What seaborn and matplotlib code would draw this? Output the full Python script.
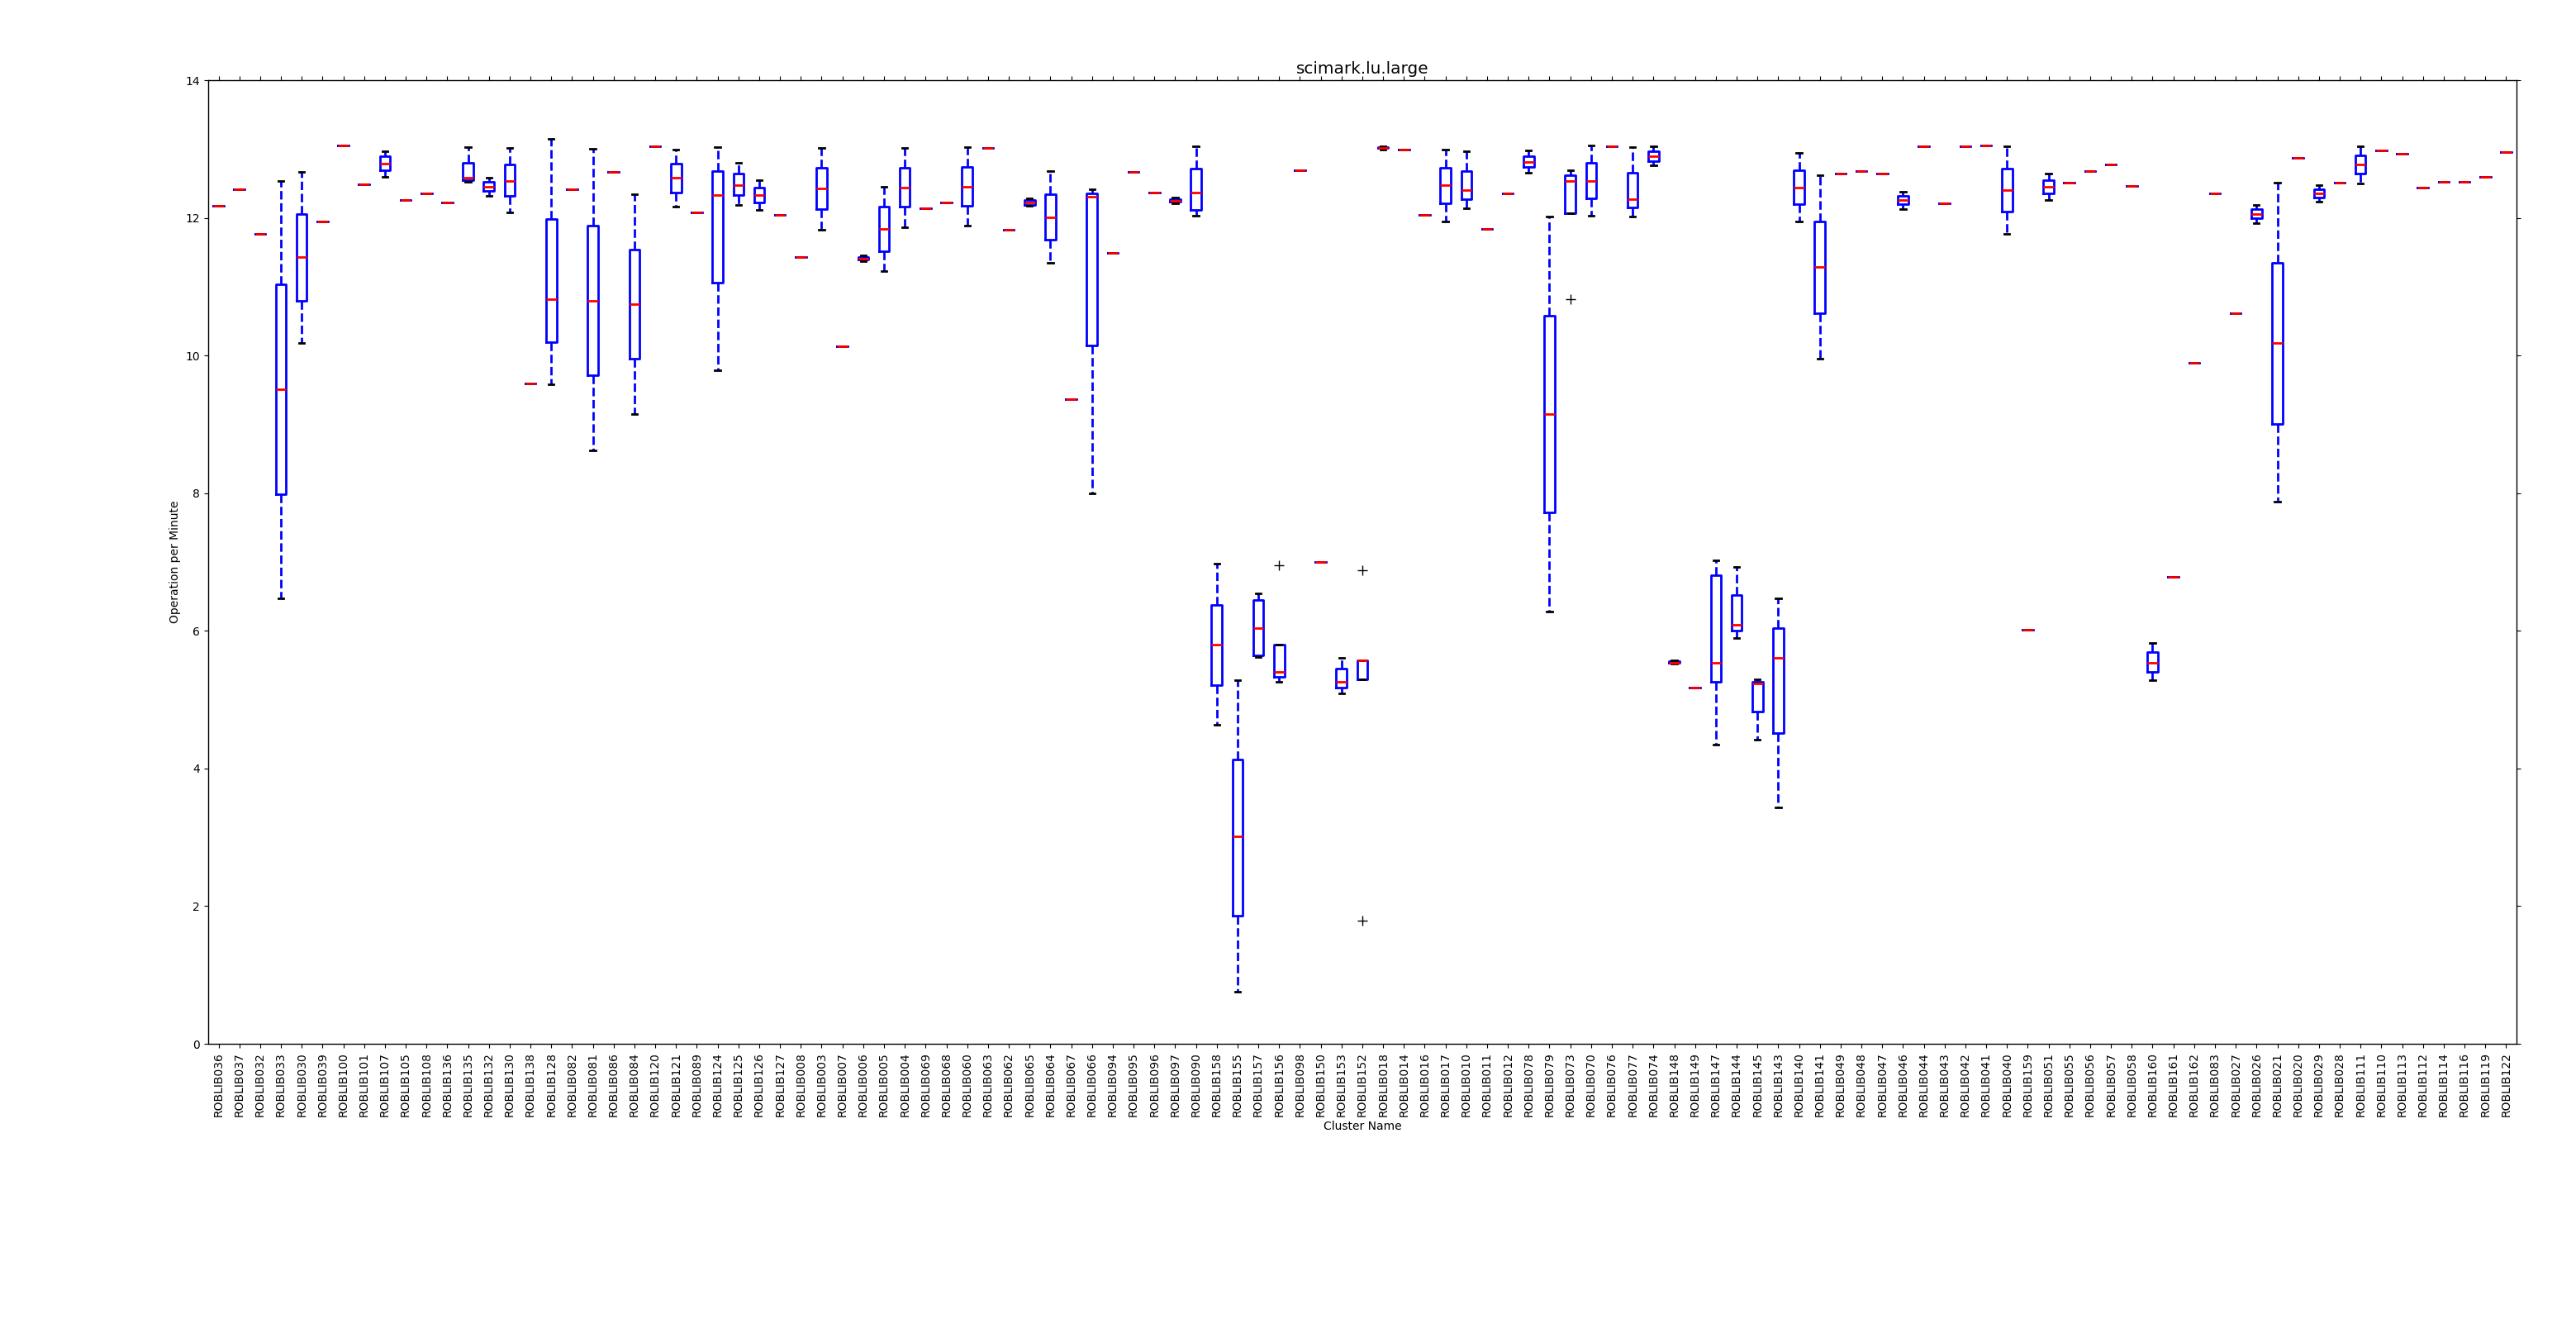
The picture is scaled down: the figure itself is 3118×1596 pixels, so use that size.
import matplotlib
matplotlib.use("Agg")
import matplotlib.pyplot as plt
import seaborn as sns
import pandas as pd

# Cluster names in plotting order
CLUSTERS = [
    "ROBLIB036", "ROBLIB037", "ROBLIB032", "ROBLIB033", "ROBLIB030", "ROBLIB039",
    "ROBLIB100", "ROBLIB101", "ROBLIB107", "ROBLIB105", "ROBLIB108", "ROBLIB136",
    "ROBLIB135", "ROBLIB132", "ROBLIB130", "ROBLIB138", "ROBLIB128", "ROBLIB082",
    "ROBLIB081", "ROBLIB086", "ROBLIB084", "ROBLIB120", "ROBLIB121", "ROBLIB089",
    "ROBLIB124", "ROBLIB125", "ROBLIB126", "ROBLIB127", "ROBLIB008", "ROBLIB003",
    "ROBLIB007", "ROBLIB006", "ROBLIB005", "ROBLIB004", "ROBLIB069", "ROBLIB068",
    "ROBLIB060", "ROBLIB063", "ROBLIB062", "ROBLIB065", "ROBLIB064", "ROBLIB067",
    "ROBLIB066", "ROBLIB094", "ROBLIB095", "ROBLIB096", "ROBLIB097", "ROBLIB090",
    "ROBLIB158", "ROBLIB155", "ROBLIB157", "ROBLIB156", "ROBLIB098", "ROBLIB150",
    "ROBLIB153", "ROBLIB152", "ROBLIB018", "ROBLIB014", "ROBLIB016", "ROBLIB017",
    "ROBLIB010", "ROBLIB011", "ROBLIB012", "ROBLIB078", "ROBLIB079", "ROBLIB073",
    "ROBLIB070", "ROBLIB076", "ROBLIB077", "ROBLIB074", "ROBLIB148", "ROBLIB149",
    "ROBLIB147", "ROBLIB144", "ROBLIB145", "ROBLIB143", "ROBLIB140", "ROBLIB141",
    "ROBLIB049", "ROBLIB048", "ROBLIB047", "ROBLIB046", "ROBLIB044", "ROBLIB043",
    "ROBLIB042", "ROBLIB041", "ROBLIB040", "ROBLIB159", "ROBLIB051", "ROBLIB055",
    "ROBLIB056", "ROBLIB057", "ROBLIB058", "ROBLIB160", "ROBLIB161", "ROBLIB162",
    "ROBLIB083", "ROBLIB027", "ROBLIB026", "ROBLIB021", "ROBLIB020", "ROBLIB029",
    "ROBLIB028", "ROBLIB111", "ROBLIB110", "ROBLIB113", "ROBLIB112", "ROBLIB114",
    "ROBLIB116", "ROBLIB119", "ROBLIB122",
]

# Five-number summaries (whisker low, Q1, median, Q3, whisker high)
WHISK_LO = [
    12.18, 12.42, 11.77, 6.47, 10.18, 11.95, 13.05, 12.49, 12.59, 12.26, 12.36, 12.22,
    12.52, 12.32, 12.08, 9.60, 9.58, 12.42, 8.62, 12.67, 9.15, 13.04, 12.16, 12.08,
    9.79, 12.19, 12.11, 12.04, 11.43, 11.83, 10.13, 11.37, 11.23, 11.86, 12.14, 12.22,
    11.89, 13.02, 11.83, 12.17, 11.35, 9.36, 8.00, 11.49, 12.67, 12.37, 12.21, 12.03,
    4.63, 0.76, 5.62, 5.26, 12.69, 7.00, 5.09, 5.30, 12.99, 12.99, 12.04, 11.95,
    12.14, 11.84, 12.35, 12.66, 6.28, 12.07, 12.03, 13.04, 12.02, 12.76, 5.52, 5.18,
    4.35, 5.90, 4.42, 3.44, 11.95, 9.96, 12.64, 12.68, 12.64, 12.13, 13.04, 12.21,
    13.04, 13.05, 11.77, 6.02, 12.26, 12.51, 12.68, 12.78, 12.46, 5.28, 6.78, 9.89,
    12.35, 10.61, 11.92, 7.88, 12.87, 12.24, 12.51, 12.50, 12.98, 12.93, 12.44, 12.52,
    12.52, 12.60, 12.95,
]
Q1 = [
    12.18, 12.42, 11.77, 7.98, 10.80, 11.95, 13.05, 12.49, 12.69, 12.26, 12.36, 12.22,
    12.55, 12.39, 12.32, 9.60, 10.20, 12.42, 9.72, 12.67, 9.96, 13.04, 12.37, 12.08,
    11.06, 12.33, 12.22, 12.04, 11.43, 12.13, 10.13, 11.39, 11.52, 12.16, 12.14, 12.22,
    12.17, 13.02, 11.83, 12.19, 11.68, 9.36, 10.15, 11.49, 12.67, 12.37, 12.23, 12.11,
    5.21, 1.86, 5.64, 5.33, 12.69, 7.00, 5.18, 5.30, 13.01, 12.99, 12.04, 12.21,
    12.27, 11.84, 12.35, 12.74, 7.72, 12.07, 12.28, 13.04, 12.15, 12.82, 5.53, 5.18,
    5.26, 6.00, 4.83, 4.52, 12.20, 10.61, 12.64, 12.68, 12.64, 12.20, 13.04, 12.21,
    13.04, 13.05, 12.09, 6.02, 12.35, 12.51, 12.68, 12.78, 12.46, 5.40, 6.78, 9.89,
    12.35, 10.61, 11.99, 9.01, 12.87, 12.30, 12.51, 12.64, 12.98, 12.93, 12.44, 12.52,
    12.52, 12.60, 12.95,
]
MEDIAN = [
    12.18, 12.42, 11.77, 9.51, 11.43, 11.95, 13.05, 12.49, 12.79, 12.26, 12.36, 12.22,
    12.58, 12.45, 12.54, 9.60, 10.82, 12.42, 10.80, 12.67, 10.75, 13.04, 12.58, 12.08,
    12.33, 12.48, 12.33, 12.04, 11.43, 12.43, 10.13, 11.41, 11.84, 12.44, 12.14, 12.22,
    12.45, 13.02, 11.83, 12.22, 12.01, 9.36, 12.31, 11.49, 12.67, 12.37, 12.25, 12.37,
    5.80, 3.01, 6.04, 5.40, 12.69, 7.00, 5.26, 5.57, 13.02, 12.99, 12.04, 12.48,
    12.40, 11.84, 12.35, 12.81, 9.15, 12.54, 12.54, 13.04, 12.27, 12.90, 5.54, 5.18,
    5.54, 6.09, 5.23, 5.61, 12.44, 11.29, 12.64, 12.68, 12.64, 12.26, 13.04, 12.21,
    13.04, 13.05, 12.40, 6.02, 12.45, 12.51, 12.68, 12.78, 12.46, 5.54, 6.78, 9.89,
    12.35, 10.61, 12.06, 10.18, 12.87, 12.35, 12.51, 12.78, 12.98, 12.93, 12.44, 12.52,
    12.52, 12.60, 12.95,
]
Q3 = [
    12.18, 12.42, 11.77, 11.03, 12.05, 11.95, 13.05, 12.49, 12.89, 12.26, 12.36, 12.22,
    12.80, 12.52, 12.78, 9.60, 11.98, 12.42, 11.89, 12.67, 11.54, 13.04, 12.79, 12.08,
    12.68, 12.64, 12.44, 12.04, 11.43, 12.73, 10.13, 11.43, 12.16, 12.73, 12.14, 12.22,
    12.74, 13.02, 11.83, 12.26, 12.34, 9.36, 12.35, 11.49, 12.67, 12.37, 12.27, 12.71,
    6.38, 4.13, 6.45, 5.80, 12.69, 7.00, 5.45, 5.57, 13.03, 12.99, 12.04, 12.73,
    12.68, 11.84, 12.35, 12.90, 10.58, 12.62, 12.80, 13.04, 12.66, 12.97, 5.56, 5.18,
    6.81, 6.52, 5.26, 6.04, 12.69, 11.95, 12.64, 12.68, 12.64, 12.32, 13.04, 12.21,
    13.04, 13.05, 12.72, 6.02, 12.55, 12.51, 12.68, 12.78, 12.46, 5.69, 6.78, 9.89,
    12.35, 10.61, 12.13, 11.35, 12.87, 12.42, 12.51, 12.91, 12.98, 12.93, 12.44, 12.52,
    12.52, 12.60, 12.95,
]
WHISK_HI = [
    12.18, 12.42, 11.77, 12.54, 12.67, 11.95, 13.05, 12.49, 12.97, 12.26, 12.36, 12.22,
    13.03, 12.58, 13.01, 9.60, 13.15, 12.42, 13.00, 12.67, 12.34, 13.04, 12.99, 12.08,
    13.03, 12.80, 12.55, 12.04, 11.43, 13.02, 10.13, 11.45, 12.45, 13.02, 12.14, 12.22,
    13.03, 13.02, 11.83, 12.28, 12.68, 9.36, 12.42, 11.49, 12.67, 12.37, 12.29, 13.04,
    6.98, 5.28, 6.55, 5.80, 12.69, 7.00, 5.61, 5.57, 13.04, 12.99, 12.04, 12.99,
    12.97, 11.84, 12.35, 12.98, 12.02, 12.69, 13.05, 13.04, 13.03, 13.04, 5.57, 5.18,
    7.02, 6.93, 5.30, 6.47, 12.94, 12.62, 12.64, 12.68, 12.64, 12.38, 13.04, 12.21,
    13.04, 13.05, 13.04, 6.02, 12.64, 12.51, 12.68, 12.78, 12.46, 5.83, 6.78, 9.89,
    12.35, 10.61, 12.19, 12.51, 12.87, 12.48, 12.51, 13.04, 12.98, 12.93, 12.44, 12.52,
    12.52, 12.60, 12.95,
]
# Outliers drawn as '+'
FLIERS = {
    "ROBLIB156": [6.95],
    "ROBLIB152": [6.88, 1.79],
    "ROBLIB073": [10.82],
}


def build_samples():
    """Expand the summaries into samples whose box statistics match them."""
    rows = []
    for i, name in enumerate(CLUSTERS):
        vals = ([WHISK_LO[i]] + [Q1[i]] * 20 + [MEDIAN[i]] * 5 +
                [Q3[i]] * 20 + [WHISK_HI[i]] + FLIERS.get(name, []))
        rows.extend({"Cluster Name": name, "Operation per Minute": v} for v in vals)
    return pd.DataFrame(rows)


def main():
    df = build_samples()

    fig = plt.figure(figsize=(31.18, 15.96), dpi=100)
    ax = fig.add_axes([0.0808, 0.2086, 0.8961, 0.7306])

    sns.boxplot(
        data=df, x="Cluster Name", y="Operation per Minute", order=CLUSTERS,
        fill=False, width=0.5, whis=2.0, ax=ax,
        boxprops=dict(color="blue", linewidth=2),
        whiskerprops=dict(color="blue", linewidth=2, linestyle="--"),
        capprops=dict(color="black", linewidth=2),
        medianprops=dict(color="red", linewidth=2),
        flierprops=dict(marker="+", markeredgecolor="black", markerfacecolor="none",
                        markersize=8, markeredgewidth=1),
    )

    ax.set_xlim(-0.5, len(CLUSTERS) - 0.5)
    ax.set_ylim(0, 14)
    ax.set_yticks(range(0, 15, 2))
    ax.tick_params(axis="x", labelrotation=90, labelsize=10, top=True, direction="out")
    ax.tick_params(axis="y", labelsize=10, right=True, direction="out")
    for side in ax.spines.values():
        side.set_color("black")
        side.set_linewidth(1)
    ax.set_title("scimark.lu.large", fontsize=14.4)
    ax.set_xlabel("Cluster Name", fontsize=10)
    ax.set_ylabel("Operation per Minute", fontsize=10)

    fig.savefig("out.png", dpi=100)
    plt.close(fig)


if __name__ == "__main__":
    main()
